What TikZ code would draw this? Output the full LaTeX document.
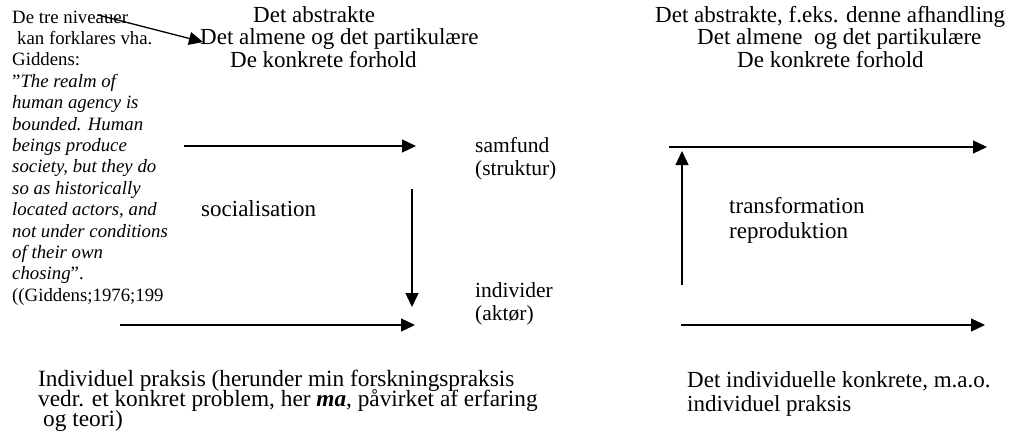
\documentclass[tikz,border=0pt]{standalone}
\usepackage{fontspec}
\setmainfont{Liberation Serif}
\usetikzlibrary{arrows.meta}

\begin{document}
\begin{tikzpicture}[x=1pt,y=-1pt,
    pil/.style={line width=1.3pt,-{Triangle[length=14pt,width=13pt]}},
    tekst/.style={anchor=base west,inner sep=0pt,align=left,
        font={\fontsize{23}{22.5}\selectfont\lineskiplimit-20pt}},
    etiket/.style={tekst,font={\fontsize{21.5}{23}\selectfont\lineskiplimit-20pt}},
    citat/.style={tekst,font={\fontsize{18.8}{21.4}\selectfont\lineskiplimit-20pt}}]
    \useasboundingbox (0,0) rectangle (1013,444);
    \node[citat] (giddens) at (12,301.2) {De tre niveauer\\
        \hspace{5pt}kan forklares vha.\\
        Giddens:\\
        ”\textit{The realm of}\\
        \textit{human agency is}\\
        \textit{bounded. Human}\\
        \textit{beings produce}\\
        \textit{society, but they do}\\
        \textit{so as historically}\\
        \textit{located actors, and}\\
        \textit{not under conditions}\\
        \textit{of their own}\\
        \textit{chosing}”.\\
        ((Giddens;1976;199};
    \node[tekst] (niveauer) at (200,67) {\hspace{53pt}Det abstrakte\\
        Det almene og det partikulære\\
        \hspace{30pt}De konkrete forhold};
    \node[tekst] (niveauer2) at (655,67) {Det abstrakte, f.eks. denne afhandling\\
        \hspace{42pt}Det almene\ \ og det partikulære\\
        \hspace{82pt}De konkrete forhold};
    \node[etiket] (samfund) at (475,175) {samfund\\(struktur)};
    \node[etiket] (individ) at (475,320) {individer\\(aktør)};
    \node[tekst] (social) at (201,216) {socialisation};
    \node[tekst,font={\fontsize{23}{25}\selectfont\lineskiplimit-20pt}] (transf) at (729,238) {transformation\\reproduktion};
    \node[tekst,font={\fontsize{23.3}{20}\selectfont\lineskiplimit-20pt}] (praksis) at (38,426)
        {Individuel praksis (herunder min forskningspraksis\\
        vedr. et konkret problem, her \textbf{\textit{ma}}, påvirket af erfaring\\
        \hspace{5pt}og teori)};
    \node[tekst,font={\fontsize{23}{24}\selectfont\lineskiplimit-20pt}] (praksis2) at (687,411)
        {Det individuelle konkrete, m.a.o.\\individuel praksis};
    \coordinate (n1) at (98,15);
    \coordinate (n2) at (203,42);
    \coordinate (a1) at (184,146);
    \coordinate (a2) at (416,146);
    \coordinate (v1) at (412,189);
    \coordinate (v2) at (412,307);
    \coordinate (b1) at (120,325);
    \coordinate (b2) at (415,325);
    \coordinate (c1) at (669,147);
    \coordinate (c2) at (987,147);
    \coordinate (u1) at (682,285);
    \coordinate (u2) at (682,151);
    \coordinate (d1) at (681,325);
    \coordinate (d2) at (985,325);
    \draw[pil] (n1) -- (n2);
    \draw[pil] (a1) -- (a2);
    \draw[pil] (v1) -- (v2);
    \draw[pil] (b1) -- (b2);
    \draw[pil] (c1) -- (c2);
    \draw[pil] (u1) -- (u2);
    \draw[pil] (d1) -- (d2);
\end{tikzpicture}
\end{document}
